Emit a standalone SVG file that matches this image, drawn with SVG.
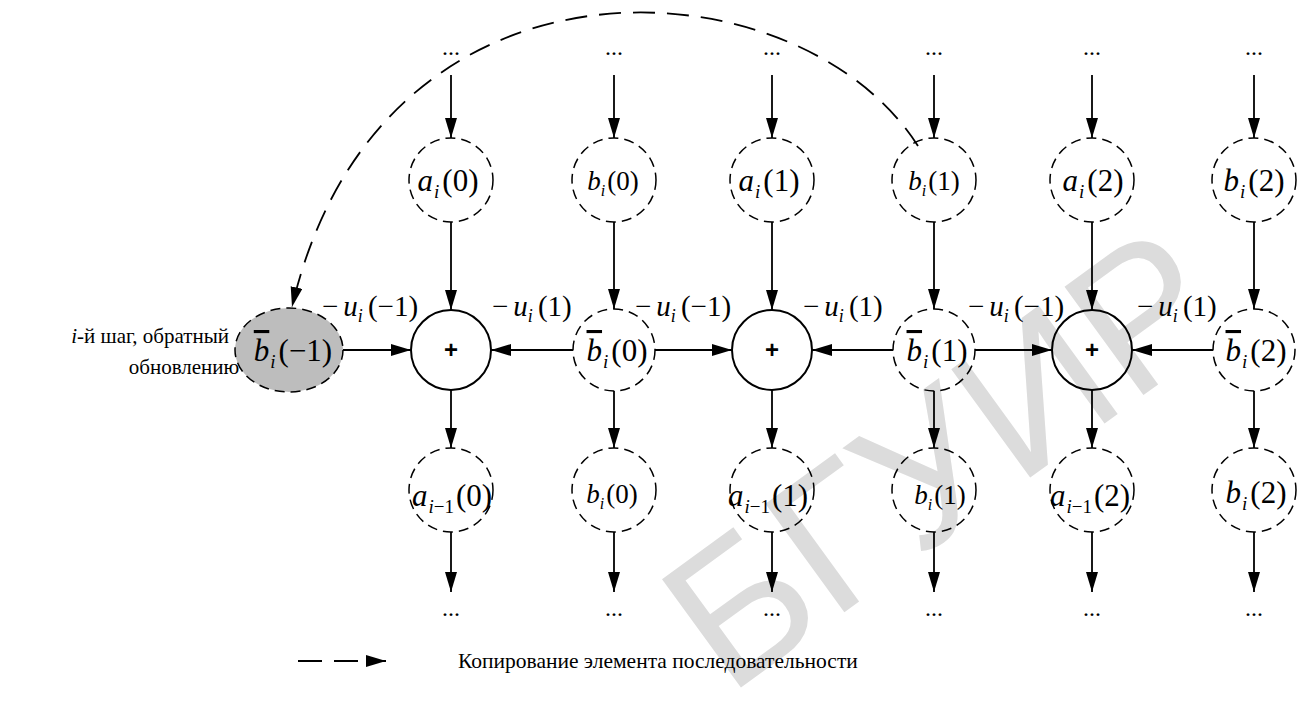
<svg xmlns="http://www.w3.org/2000/svg" width="1302" height="701" viewBox="0 0 1302 701">
<defs>
<style>
.t{font-family:"Liberation Serif","Times New Roman",serif;fill:#000}
.it{font-style:italic}
.L{font-size:31px}
.S{font-size:27px}
.E{font-size:29px}
.dots{font-family:"Liberation Serif",serif;font-size:24px;fill:#000}
.dc{fill:none;stroke:#000;stroke-width:1.5;stroke-dasharray:10 6}
.pc{fill:none;stroke:#000;stroke-width:2}
.ar{fill:none;stroke:#000;stroke-width:1.8;marker-end:url(#ah)}
.plus{font-family:"Liberation Sans",Arial,sans-serif;font-weight:bold;font-size:24px;fill:#000}
.ov{text-decoration:overline}
</style>
<marker id="ah" markerUnits="userSpaceOnUse" markerWidth="22" markerHeight="14" refX="20" refY="6" orient="auto">
<path d="M0,0 L20,6 L0,12 z" fill="#000"/>
</marker>
</defs>
<rect width="1302" height="701" fill="#fff"/>
<g id="watermark">
<text x="0" y="0" transform="translate(728,697) rotate(-36)" font-family="Liberation Sans,Arial,sans-serif" font-size="195" fill="#dcdcdc">БГУИР</text>
</g>
<g id="side-text">
<text class="t" font-size="21" x="229" y="343" text-anchor="end"><tspan class="it">i</tspan>-й шаг, обратный</text>
<text class="t" font-size="21" x="184" y="374" text-anchor="middle">обновлению</text>
</g>
<g id="dots">
<text class="dots" x="451" y="55" text-anchor="middle">...</text>
<text class="dots" x="614" y="55" text-anchor="middle">...</text>
<text class="dots" x="772" y="55" text-anchor="middle">...</text>
<text class="dots" x="934" y="55" text-anchor="middle">...</text>
<text class="dots" x="1092" y="55" text-anchor="middle">...</text>
<text class="dots" x="1254" y="55" text-anchor="middle">...</text>
<text class="dots" x="451" y="616" text-anchor="middle">...</text>
<text class="dots" x="614" y="616" text-anchor="middle">...</text>
<text class="dots" x="772" y="616" text-anchor="middle">...</text>
<text class="dots" x="934" y="616" text-anchor="middle">...</text>
<text class="dots" x="1092" y="616" text-anchor="middle">...</text>
<text class="dots" x="1254" y="616" text-anchor="middle">...</text>
</g>
<g id="connectors">
<line class="ar" x1="451" y1="75" x2="451" y2="138"/>
<line class="ar" x1="614" y1="75" x2="614" y2="138"/>
<line class="ar" x1="772" y1="75" x2="772" y2="138"/>
<line class="ar" x1="934" y1="75" x2="934" y2="138"/>
<line class="ar" x1="1092" y1="75" x2="1092" y2="138"/>
<line class="ar" x1="1254" y1="75" x2="1254" y2="138"/>
<line class="ar" x1="451" y1="222" x2="451" y2="310"/>
<line class="ar" x1="614" y1="222" x2="614" y2="309"/>
<line class="ar" x1="772" y1="222" x2="772" y2="310"/>
<line class="ar" x1="934" y1="222" x2="934" y2="309"/>
<line class="ar" x1="1092" y1="222" x2="1092" y2="310"/>
<line class="ar" x1="1254" y1="222" x2="1254" y2="309"/>
<line class="ar" x1="451" y1="390" x2="451" y2="448"/>
<line class="ar" x1="614" y1="391" x2="614" y2="448"/>
<line class="ar" x1="772" y1="390" x2="772" y2="448"/>
<line class="ar" x1="934" y1="391" x2="934" y2="448"/>
<line class="ar" x1="1092" y1="390" x2="1092" y2="448"/>
<line class="ar" x1="1254" y1="391" x2="1254" y2="448"/>
<line class="ar" x1="451" y1="532" x2="451" y2="592"/>
<line class="ar" x1="614" y1="532" x2="614" y2="592"/>
<line class="ar" x1="772" y1="532" x2="772" y2="592"/>
<line class="ar" x1="934" y1="532" x2="934" y2="592"/>
<line class="ar" x1="1092" y1="532" x2="1092" y2="592"/>
<line class="ar" x1="1254" y1="532" x2="1254" y2="592"/>
<line class="ar" x1="343" y1="350" x2="411" y2="350"/>
<line class="ar" x1="573" y1="350" x2="491" y2="350"/>
<line class="ar" x1="655" y1="350" x2="732" y2="350"/>
<line class="ar" x1="893" y1="350" x2="812" y2="350"/>
<line class="ar" x1="975" y1="350" x2="1052" y2="350"/>
<line class="ar" x1="1213" y1="350" x2="1132" y2="350"/>
<path class="ar" d="M918,146 C800,-40 380,-70 292,307" stroke-dasharray="22 12"/>
<line class="ar" x1="298" y1="661" x2="386" y2="661" stroke-dasharray="24 12"/>
</g>
<g id="edge-labels" class="t E">
<text x="322" y="316">−<tspan class="it" dx="5">u</tspan><tspan class="it" font-size="18" dy="6">i</tspan><tspan dx="5" dy="-6">(−1)</tspan></text>
<text x="492" y="316">−<tspan class="it" dx="5">u</tspan><tspan class="it" font-size="18" dy="6">i</tspan><tspan dx="5" dy="-6">(1)</tspan></text>
<text x="635" y="316">−<tspan class="it" dx="5">u</tspan><tspan class="it" font-size="18" dy="6">i</tspan><tspan dx="5" dy="-6">(−1)</tspan></text>
<text x="803" y="316">−<tspan class="it" dx="5">u</tspan><tspan class="it" font-size="18" dy="6">i</tspan><tspan dx="5" dy="-6">(1)</tspan></text>
<text x="968" y="316">−<tspan class="it" dx="5">u</tspan><tspan class="it" font-size="18" dy="6">i</tspan><tspan dx="5" dy="-6">(−1)</tspan></text>
<text x="1137" y="316">−<tspan class="it" dx="5">u</tspan><tspan class="it" font-size="18" dy="6">i</tspan><tspan dx="5" dy="-6">(1)</tspan></text>
</g>
<g id="n-a0"><circle class="dc" cx="451" cy="180" r="42"/><text class="t L" x="448" y="191" text-anchor="middle"><tspan class="it">a</tspan><tspan class="it" font-size="19" dy="7" dx="1">i</tspan><tspan dy="-7" dx="3">(0)</tspan></text></g>
<g id="n-b0"><circle class="dc" cx="614" cy="180" r="42"/><text class="t S" x="613" y="190" text-anchor="middle"><tspan class="it">b</tspan><tspan class="it" font-size="16" dy="6">i</tspan><tspan dy="-6" dx="2">(0)</tspan></text></g>
<g id="n-a1"><circle class="dc" cx="772" cy="180" r="42"/><text class="t L" x="769" y="191" text-anchor="middle"><tspan class="it">a</tspan><tspan class="it" font-size="19" dy="7" dx="1">i</tspan><tspan dy="-7" dx="3">(1)</tspan></text></g>
<g id="n-b1"><circle class="dc" cx="934" cy="180" r="42"/><text class="t S" x="934" y="190" text-anchor="middle"><tspan class="it">b</tspan><tspan class="it" font-size="16" dy="6">i</tspan><tspan dy="-6" dx="2">(1)</tspan></text></g>
<g id="n-a2"><circle class="dc" cx="1092" cy="180" r="42"/><text class="t L" x="1093" y="191" text-anchor="middle"><tspan class="it">a</tspan><tspan class="it" font-size="19" dy="7" dx="1">i</tspan><tspan dy="-7" dx="3">(2)</tspan></text></g>
<g id="n-b2"><circle class="dc" cx="1254" cy="180" r="42"/><text class="t L" x="1254" y="191" text-anchor="middle"><tspan class="it">b</tspan><tspan class="it" font-size="19" dy="7" dx="1">i</tspan><tspan dy="-7" dx="3">(2)</tspan></text></g>
<g id="n-bbm1"><ellipse cx="289" cy="350" rx="54" ry="42" fill="#bdbdbd" stroke="#000" stroke-width="1.5" stroke-dasharray="10 6"/><text class="t L" x="293" y="361" text-anchor="middle"><tspan class="it ov">b</tspan><tspan class="it" font-size="19" dy="7" dx="1">i</tspan><tspan dy="-7" dx="3">(−1)</tspan></text></g>
<g id="n-sum0"><circle class="pc" cx="451" cy="350" r="40"/><text class="plus" x="451" y="358" text-anchor="middle">+</text></g>
<g id="n-bb0"><circle class="dc" cx="614" cy="350" r="41"/><text class="t L" x="617" y="361" text-anchor="middle"><tspan class="it ov">b</tspan><tspan class="it" font-size="19" dy="7" dx="1">i</tspan><tspan dy="-7" dx="3">(0)</tspan></text></g>
<g id="n-sum1"><circle class="pc" cx="772" cy="350" r="40"/><text class="plus" x="772" y="358" text-anchor="middle">+</text></g>
<g id="n-bb1"><circle class="dc" cx="934" cy="350" r="41"/><text class="t L" x="937" y="361" text-anchor="middle"><tspan class="it ov">b</tspan><tspan class="it" font-size="19" dy="7" dx="1">i</tspan><tspan dy="-7" dx="3">(1)</tspan></text></g>
<g id="n-sum2"><circle class="pc" cx="1092" cy="350" r="40"/><text class="plus" x="1092" y="358" text-anchor="middle">+</text></g>
<g id="n-bb2"><circle class="dc" cx="1254" cy="350" r="41"/><text class="t L" x="1256" y="361" text-anchor="middle"><tspan class="it ov">b</tspan><tspan class="it" font-size="19" dy="7" dx="1">i</tspan><tspan dy="-7" dx="3">(2)</tspan></text></g>
<g id="n-am0"><circle class="dc" cx="451" cy="490" r="42"/><text class="t L" x="452" y="506" text-anchor="middle"><tspan class="it">a</tspan><tspan font-size="19" dy="7" dx="1"><tspan class="it">i</tspan>−1</tspan><tspan dy="-7" dx="2">(0)</tspan></text></g>
<g id="n-bl0"><circle class="dc" cx="614" cy="490" r="42"/><text class="t S" x="612" y="503" text-anchor="middle"><tspan class="it">b</tspan><tspan class="it" font-size="16" dy="6">i</tspan><tspan dy="-6" dx="2">(0)</tspan></text></g>
<g id="n-am1"><circle class="dc" cx="772" cy="490" r="42"/><text class="t L" x="768" y="506" text-anchor="middle"><tspan class="it">a</tspan><tspan font-size="19" dy="7" dx="1"><tspan class="it">i</tspan>−1</tspan><tspan dy="-7" dx="2">(1)</tspan></text></g>
<g id="n-bl1"><circle class="dc" cx="934" cy="490" r="42"/><text class="t S" x="940" y="504" text-anchor="middle"><tspan class="it">b</tspan><tspan class="it" font-size="16" dy="6">i</tspan><tspan dy="-6" dx="2">(1)</tspan></text></g>
<g id="n-am2"><circle class="dc" cx="1092" cy="490" r="42"/><text class="t L" x="1090" y="506" text-anchor="middle"><tspan class="it">a</tspan><tspan font-size="19" dy="7" dx="1"><tspan class="it">i</tspan>−1</tspan><tspan dy="-7" dx="2">(2)</tspan></text></g>
<g id="n-bl2"><circle class="dc" cx="1254" cy="490" r="42"/><text class="t L" x="1256" y="503" text-anchor="middle"><tspan class="it">b</tspan><tspan class="it" font-size="19" dy="7" dx="1">i</tspan><tspan dy="-7" dx="3">(2)</tspan></text></g>
<g id="legend">
<text class="t" font-size="21.5" x="458" y="668">Копирование элемента последовательности</text>
</g>
</svg>
